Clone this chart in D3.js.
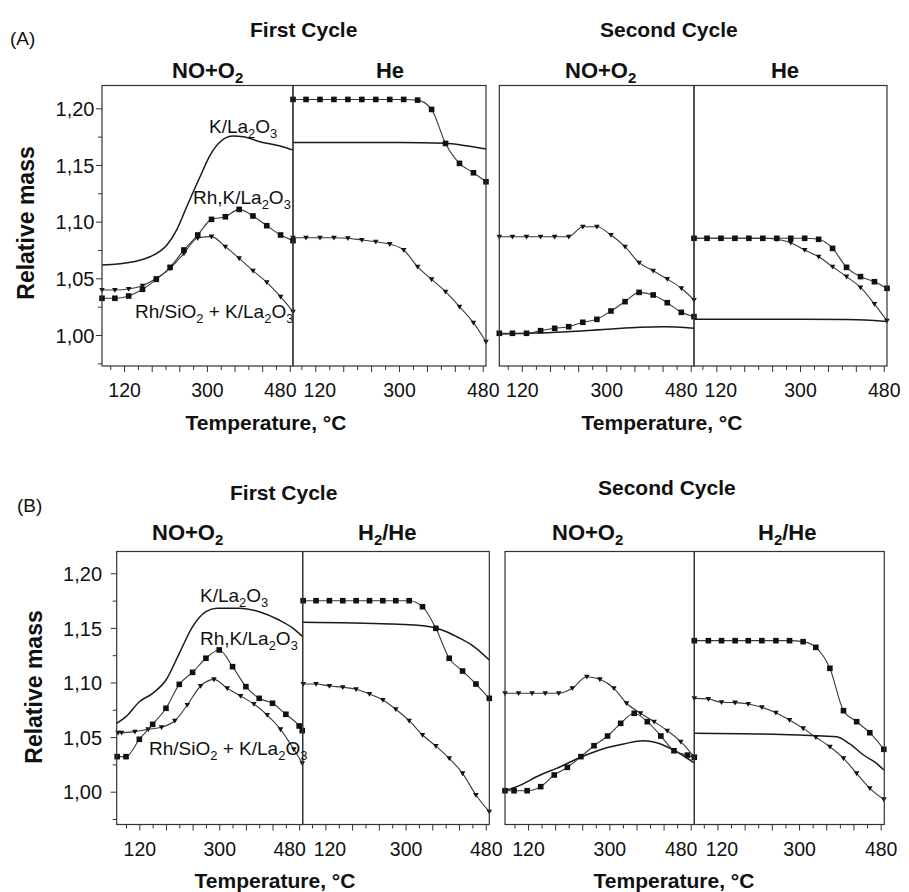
<!DOCTYPE html>
<html>
<head>
<meta charset="utf-8">
<script src="https://cdn.jsdelivr.net/npm/d3@7"></script>
<style>
  body { margin: 0; background: #fff; }
  svg text { font-family: "Liberation Sans", Arial, Helvetica, sans-serif; fill: #111; }
</style>
</head>
<body>
<svg id="chart" width="909" height="892"></svg>
<script>
// ---------------- data: relative mass vs temperature (°C) ----------------
// (A) marker temperatures shared by every panel of the upper figure
const T_A = [72, 100, 130, 160, 190, 220, 250, 280, 310, 340, 370, 400, 430, 460, 487];

// (A) first cycle, NO+O2
const A1noK_T  = [72, 140, 176, 213, 234, 256, 285, 307, 329, 357, 379, 415, 459, 487];
const A1noK    = [1.0617, 1.0646, 1.0690, 1.0794, 1.0926, 1.1131, 1.1396, 1.1587, 1.1705, 1.1755, 1.1749, 1.1705, 1.1667, 1.1631];
const A1noRhK  = [1.0324, 1.0324, 1.0344, 1.0403, 1.0491, 1.0597, 1.0750, 1.0882, 1.1020, 1.1043, 1.1108, 1.1050, 1.0964, 1.0882, 1.0832];
const A1noRhSi = [1.0397, 1.0397, 1.0406, 1.0435, 1.0500, 1.0588, 1.0720, 1.0855, 1.0868, 1.0779, 1.0676, 1.0567, 1.0465, 1.0338, 1.0206];
// (A) first cycle, He
const A1heK_T  = [72, 300, 400, 444, 487];
const A1heK    = [1.1699, 1.1699, 1.1692, 1.1669, 1.1640];
const A1heRhK  = [1.2078, 1.2078, 1.2078, 1.2078, 1.2078, 1.2078, 1.2078, 1.2078, 1.2078, 1.2072, 1.1990, 1.1690, 1.1514, 1.1431, 1.1352];
const A1heRhSi = [1.0858, 1.0858, 1.0858, 1.0858, 1.0853, 1.0838, 1.0823, 1.0802, 1.0750, 1.0602, 1.0491, 1.0382, 1.0250, 1.0109, 0.9941];
// (A) second cycle, NO+O2
const A2noK_T  = [72, 194, 301, 372, 422, 487];
const A2noK    = [1.0009, 1.0024, 1.0050, 1.0068, 1.0073, 1.0060];
const A2noRhK  = [1.0015, 1.0015, 1.0015, 1.0038, 1.0059, 1.0073, 1.0112, 1.0138, 1.0212, 1.0294, 1.0376, 1.0353, 1.0285, 1.0200, 1.0162];
const A2noRhSi = [1.0867, 1.0867, 1.0867, 1.0867, 1.0867, 1.0867, 1.0955, 1.0955, 1.0882, 1.0779, 1.0638, 1.0567, 1.0494, 1.0412, 1.0309];
// (A) second cycle, He
const A2heK_T  = [72, 300, 400, 440, 487];
const A2heK    = [1.0138, 1.0138, 1.0136, 1.0132, 1.0118];
const A2heRhK  = [1.0853, 1.0853, 1.0853, 1.0853, 1.0853, 1.0853, 1.0853, 1.0853, 1.0853, 1.0844, 1.0764, 1.0597, 1.0515, 1.0470, 1.0412];
const A2heRhSi = [1.0853, 1.0853, 1.0853, 1.0853, 1.0853, 1.0853, 1.0844, 1.0814, 1.0750, 1.0690, 1.0602, 1.0515, 1.0420, 1.0273, 1.0126];

// (B) first cycle, NO+O2
const B1noK_T   = [69, 90, 120, 150, 180, 210, 240, 270, 295, 345, 390, 435, 465, 488];
const B1noK     = [1.0626, 1.0687, 1.0824, 1.0901, 1.1023, 1.1267, 1.1511, 1.1648, 1.1680, 1.1680, 1.1648, 1.1572, 1.1500, 1.1420];
const B1noSq_T  = [70, 90, 120, 150, 180, 210, 240, 270, 300, 330, 360, 390, 420, 450, 480, 487];
const B1noRhK   = [1.0321, 1.0321, 1.0480, 1.0617, 1.0764, 1.0983, 1.1093, 1.1222, 1.1298, 1.1145, 1.0962, 1.0855, 1.0810, 1.0709, 1.0602, 1.0559];
const B1noTri_T = [72, 80, 110, 140, 170, 200, 228, 258, 288, 318, 348, 378, 408, 438, 468, 487];
const B1noRhSi  = [1.0540, 1.0540, 1.0550, 1.0571, 1.0590, 1.0650, 1.0794, 1.0968, 1.1029, 1.0947, 1.0876, 1.0803, 1.0702, 1.0571, 1.0388, 1.0260];
// (B) first cycle, H2/He
const B1he_T    = [70, 99, 129, 159, 189, 219, 249, 278, 308, 338, 368, 398, 428, 458, 488];
const B1heK_T   = [70, 265, 355, 392, 415, 452, 488];
const B1heK     = [1.1551, 1.1536, 1.1511, 1.1465, 1.1419, 1.1334, 1.1206];
const B1heRhK   = [1.1749, 1.1749, 1.1749, 1.1749, 1.1749, 1.1749, 1.1749, 1.1749, 1.1749, 1.1694, 1.1496, 1.1222, 1.1105, 1.0986, 1.0855];
const B1heRhSi  = [1.0986, 1.0986, 1.0968, 1.0956, 1.0938, 1.0895, 1.0840, 1.0755, 1.0650, 1.0519, 1.0418, 1.0306, 1.0168, 0.9970, 0.9817];
// (B) second cycle, NO+O2
const B2noK_T   = [69, 95, 147, 183, 239, 294, 331, 375, 405, 449, 487];
const B2noK     = [1.0009, 1.0046, 1.0153, 1.0214, 1.0320, 1.0403, 1.0437, 1.0467, 1.0449, 1.0366, 1.0266];
const B2noSq_T  = [69, 89, 118, 148, 178, 207, 237, 266, 296, 325, 355, 384, 414, 443, 473, 488];
const B2noRhK   = [1.0009, 1.0009, 1.0009, 1.0046, 1.0153, 1.0223, 1.0321, 1.0421, 1.0510, 1.0626, 1.0718, 1.0641, 1.0510, 1.0375, 1.0335, 1.0315];
const B2noTri_T = [69, 99, 129, 158, 188, 218, 250, 279, 310, 338, 369, 399, 428, 458, 487];
const B2noRhSi  = [1.0901, 1.0901, 1.0901, 1.0901, 1.0901, 1.0947, 1.1053, 1.1029, 1.0947, 1.0810, 1.0718, 1.0641, 1.0559, 1.0458, 1.0321];
// (B) second cycle, H2/He
const B2he_T    = [69, 100, 129, 159, 188, 218, 249, 279, 309, 337, 368, 398, 427, 456, 487];
const B2heK_T   = [69, 243, 353, 383, 412, 442, 471, 487];
const B2heK     = [1.0535, 1.0526, 1.0510, 1.0504, 1.0437, 1.0336, 1.0260, 1.0199];
const B2heRhK   = [1.1383, 1.1383, 1.1383, 1.1383, 1.1383, 1.1383, 1.1383, 1.1383, 1.1374, 1.1322, 1.1130, 1.0742, 1.0641, 1.0540, 1.0388];
const B2heRhSi  = [1.0855, 1.0849, 1.0819, 1.0816, 1.0803, 1.0773, 1.0724, 1.0657, 1.0580, 1.0498, 1.0412, 1.0306, 1.0168, 1.0031, 0.9930];

// axis ticks
const xTicks      = [90, 120, 150, 180, 210, 240, 270, 300, 330, 360, 390, 420, 450, 480];
const xTickLabels = [120, 300, 480];
const yTicks      = [0.975, 1.00, 1.025, 1.05, 1.075, 1.10, 1.125, 1.15, 1.175, 1.20];
const yTickLabels = [1.00, 1.05, 1.10, 1.15, 1.20];

// ---------------- drawing ----------------
const svg = d3.select("#chart");
const zip = (ts, vs) => ts.map((t, i) => [t, vs[i]]);
const isLabelled = d => yTickLabels.some(v => Math.abs(v - d) < 1e-9);

function richText(g, x, y, parts, size, opts = {}) {
  const t = g.append("text")
    .attr("x", x).attr("y", y)
    .attr("font-size", size)
    .attr("font-weight", opts.bold ? "bold" : "normal")
    .attr("text-anchor", opts.anchor || "start");
  let wasSub = false;
  parts.forEach(p => {
    const sub = Array.isArray(p);
    const s = sub ? p[0] : p;
    const ts = t.append("tspan").text(s);
    if (sub) {
      ts.attr("font-size", size * 0.68).attr("dy", size * 0.24);
    } else if (wasSub) {
      ts.attr("dy", -size * 0.24);
    }
    wasSub = sub;
  });
  return t;
}

function drawSection(cfg) {
  const g = svg.append("g");
  const y = d3.scaleLinear().domain(cfg.yDomain).range([cfg.bottom, cfg.top]);

  cfg.panels.forEach((p, pi) => {
    const x = d3.scaleLinear().domain(cfg.xDomain).range([p.x0, p.x1]);
    const pg = g.append("g");

    const line = d3.line().x(d => x(d[0])).y(d => y(d[1])).curve(d3.curveMonotoneX);

    p.series.forEach(s => {
      const pts = zip(s.t, s.v);
      pg.append("path")
        .attr("d", line(pts))
        .attr("fill", "none")
        .attr("stroke", s.kind === "solid" ? "#1a1a1a" : "#3a3a3a")
        .attr("stroke-width", s.kind === "solid" ? 1.5 : 1.1);
      if (s.kind === "square") {
        pg.selectAll(null).data(pts).enter().append("rect")
          .attr("x", d => x(d[0]) - 2.8).attr("y", d => y(d[1]) - 2.8)
          .attr("width", 5.6).attr("height", 5.6)
          .attr("fill", "#111");
      } else if (s.kind === "tri") {
        pg.selectAll(null).data(pts).enter().append("path")
          .attr("d", "M-2.8,-2 L2.8,-2 L0,2.8 Z")
          .attr("transform", d => `translate(${x(d[0])},${y(d[1])})`)
          .attr("fill", "#111");
      }
    });

    // x axis
    const ax = pg.append("g")
      .attr("transform", `translate(0,${cfg.bottom})`)
      .call(d3.axisBottom(x).tickValues(xTicks).tickSize(5)
        .tickFormat(d => xTickLabels.includes(d) ? d : ""));
    ax.select(".domain").remove();
    ax.selectAll(".tick line")
      .attr("stroke", "#333").attr("stroke-width", 1)
      .attr("y2", d => (d % 60 === 0 ? 6 : 4));
    ax.selectAll(".tick text")
      .attr("font-size", 19.5)
      .attr("fill", "#111")
      .attr("dy", null)
      .attr("y", 31)
      .attr("dx", d => {
        if (pi % 2 === 0 && d === 480) return -10;
        if (pi % 2 === 1 && d === 120) return 4;
        return 0;
      });

    // frame
    pg.append("rect")
      .attr("x", p.x0).attr("y", cfg.top)
      .attr("width", p.x1 - p.x0).attr("height", cfg.bottom - cfg.top)
      .attr("fill", "none").attr("stroke", "#333").attr("stroke-width", 1.2);
  });

  // y axis on the left of the first cycle
  const ay = g.append("g")
    .attr("transform", `translate(${cfg.panels[0].x0},0)`)
    .call(d3.axisLeft(y).tickValues(yTicks).tickSize(6)
      .tickFormat(d => isLabelled(d) ? d3.format(".2f")(d).replace(".", ",") : ""));
  ay.select(".domain").remove();
  ay.selectAll(".tick line")
    .attr("stroke", "#333")
    .attr("x2", d => (isLabelled(d) ? -6 : -4));
  ay.selectAll(".tick text")
    .attr("font-size", 20).attr("fill", "#111")
    .attr("x", -cfg.yLabelGap).attr("dy", "0.36em");

  // headings
  richText(g, cfg.tag[1], cfg.tag[2], [cfg.tag[0]], 19);
  cfg.cycles.forEach(c => richText(g, c.x, c.y, [c.text], 21, { bold: true }));
  cfg.gases.forEach(c => richText(g, c.x, c.y, c.parts, 22, { bold: true, anchor: c.anchor || "start" }));
  cfg.xLabels.forEach(c => richText(g, c.x, cfg.xLabelY, ["Temperature, °C"], 21, { bold: true, anchor: "middle" }));
  g.append("text")
    .attr("transform", `translate(${cfg.yLabel[0]},${cfg.yLabel[1]}) rotate(-90)`)
    .attr("text-anchor", "middle")
    .attr("font-size", 23).attr("font-weight", "bold")
    .text("Relative mass");
  cfg.notes.forEach(n => richText(g, n.x, n.y, n.parts, 19));
}

const kLa  = ["K/La", ["2"], "O", ["3"]];
const rhK  = ["Rh,K/La", ["2"], "O", ["3"]];
const rhSi = ["Rh/SiO", ["2"], " + K/La", ["2"], "O", ["3"]];
const noO2 = ["NO+O", ["2"]];
const h2He = ["H", ["2"], "/He"];

// upper figure (A)
drawSection({
  yDomain: [0.97265, 1.2201], top: 85.5, bottom: 366,
  xDomain: [72, 487],
  yLabelGap: 7.5,
  panels: [
    { x0: 102, x1: 293, series: [
      { kind: "solid",  t: A1noK_T, v: A1noK },
      { kind: "tri",    t: T_A, v: A1noRhSi },
      { kind: "square", t: T_A, v: A1noRhK } ] },
    { x0: 293, x1: 486, series: [
      { kind: "solid",  t: A1heK_T, v: A1heK },
      { kind: "tri",    t: T_A, v: A1heRhSi },
      { kind: "square", t: T_A, v: A1heRhK } ] },
    { x0: 499.3, x1: 694, series: [
      { kind: "solid",  t: A2noK_T, v: A2noK },
      { kind: "tri",    t: T_A, v: A2noRhSi },
      { kind: "square", t: T_A, v: A2noRhK } ] },
    { x0: 694, x1: 887, series: [
      { kind: "solid",  t: A2heK_T, v: A2heK },
      { kind: "tri",    t: T_A, v: A2heRhSi },
      { kind: "square", t: T_A, v: A2heRhK } ] }
  ],
  tag: ["(A)", 10, 45],
  cycles: [ { text: "First Cycle", x: 250, y: 37 }, { text: "Second Cycle", x: 600, y: 37 } ],
  gases: [
    { parts: noO2, x: 172, y: 78 },
    { parts: ["He"], x: 390, y: 78, anchor: "middle" },
    { parts: noO2, x: 565, y: 78 },
    { parts: ["He"], x: 785, y: 78, anchor: "middle" }
  ],
  xLabels: [ { x: 266 }, { x: 662 } ], xLabelY: 430,
  yLabel: [34, 223],
  notes: [
    { parts: kLa,  x: 209, y: 133 },
    { parts: rhK,  x: 193, y: 204 },
    { parts: rhSi, x: 135, y: 318 }
  ]
});

// lower figure (B)
drawSection({
  yDomain: [0.96996, 1.21996], top: 551.5, bottom: 824.5,
  xDomain: [69, 488],
  yLabelGap: 14.7,
  panels: [
    { x0: 116.7, x1: 302.7, series: [
      { kind: "solid",  t: B1noK_T, v: B1noK },
      { kind: "tri",    t: B1noTri_T, v: B1noRhSi },
      { kind: "square", t: B1noSq_T, v: B1noRhK } ] },
    { x0: 302.7, x1: 489.3, series: [
      { kind: "solid",  t: B1heK_T, v: B1heK },
      { kind: "tri",    t: B1he_T, v: B1heRhSi },
      { kind: "square", t: B1he_T, v: B1heRhK } ] },
    { x0: 505, x1: 694.3, series: [
      { kind: "solid",  t: B2noK_T, v: B2noK },
      { kind: "tri",    t: B2noTri_T, v: B2noRhSi },
      { kind: "square", t: B2noSq_T, v: B2noRhK } ] },
    { x0: 694.3, x1: 884.3, series: [
      { kind: "solid",  t: B2heK_T, v: B2heK },
      { kind: "tri",    t: B2he_T, v: B2heRhSi },
      { kind: "square", t: B2he_T, v: B2heRhK } ] }
  ],
  tag: ["(B)", 17, 512],
  cycles: [ { text: "First Cycle", x: 230, y: 500 }, { text: "Second Cycle", x: 598, y: 495 } ],
  gases: [
    { parts: noO2, x: 152, y: 540 },
    { parts: h2He, x: 358, y: 540 },
    { parts: noO2, x: 552, y: 540 },
    { parts: h2He, x: 758, y: 540 }
  ],
  xLabels: [ { x: 275 }, { x: 674 } ], xLabelY: 888,
  yLabel: [42, 687],
  notes: [
    { parts: kLa,  x: 200, y: 602 },
    { parts: rhK,  x: 200, y: 645 },
    { parts: rhSi, x: 149, y: 755 }
  ]
});
</script>
</body>
</html>
